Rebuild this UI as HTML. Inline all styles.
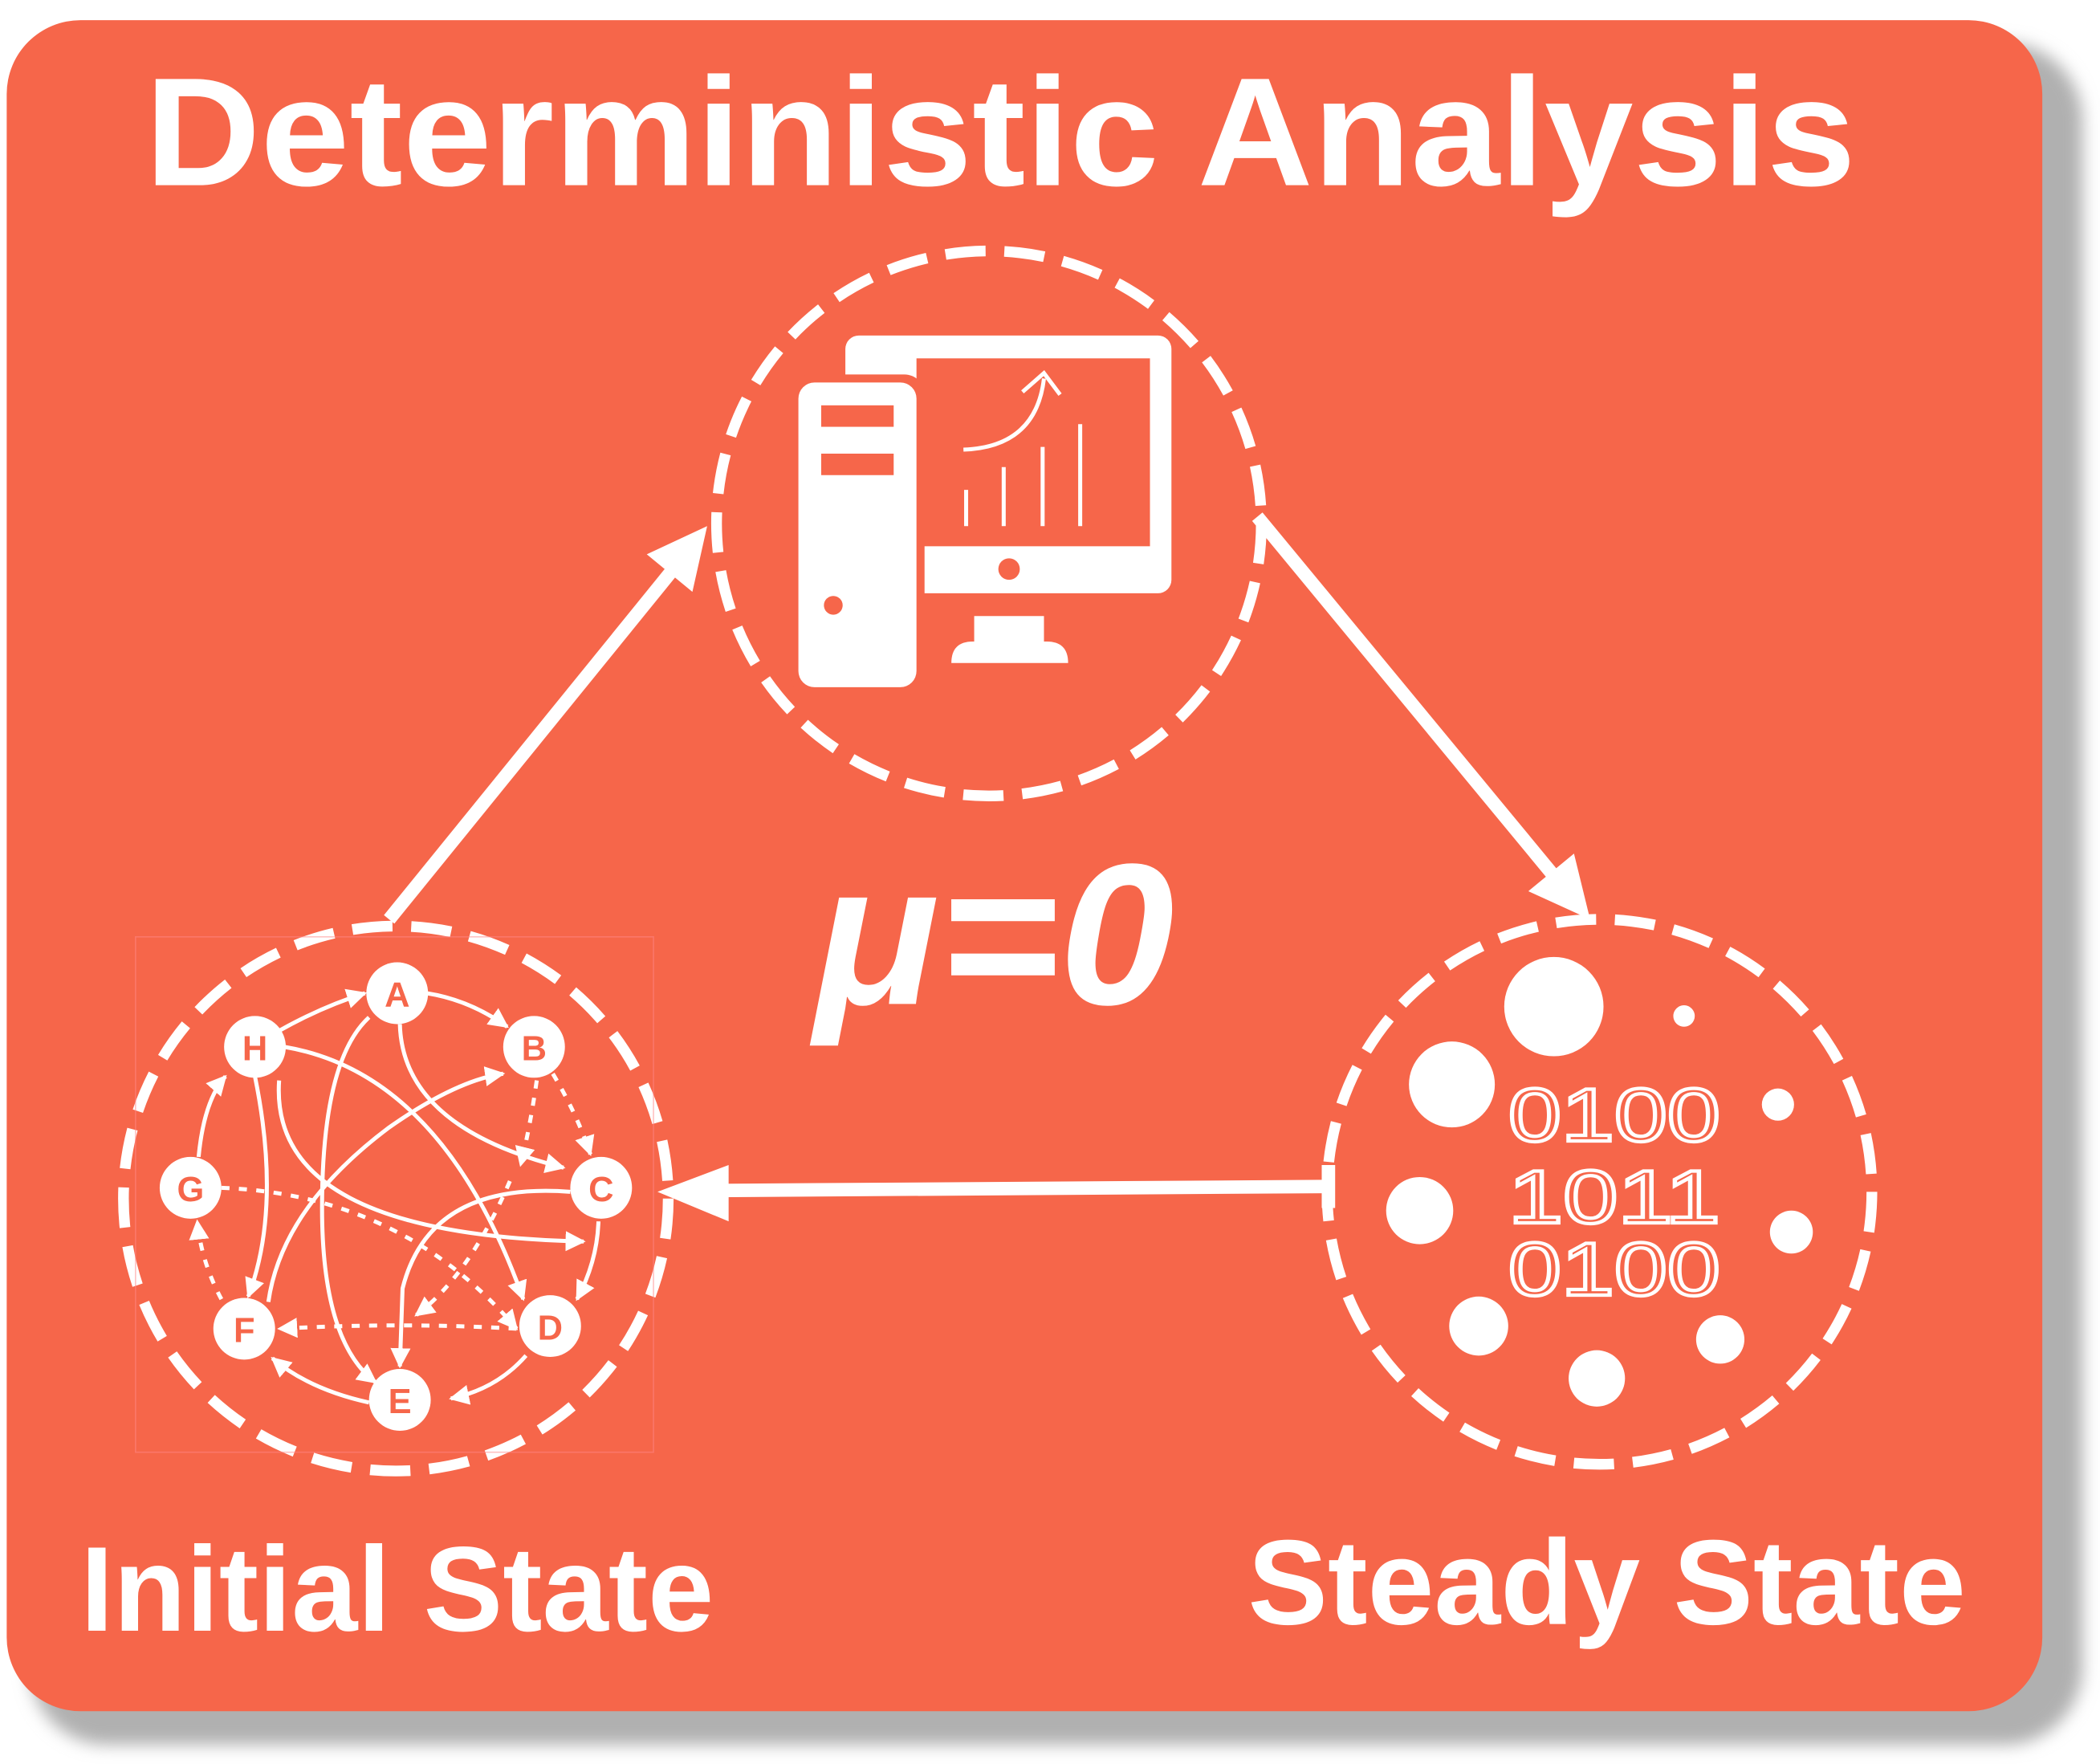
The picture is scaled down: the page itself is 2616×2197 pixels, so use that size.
<!DOCTYPE html>
<html><head><meta charset="utf-8"><style>
html,body{margin:0;padding:0;background:#fff}
svg{display:block}
</style></head><body>
<svg width="2616" height="2197" viewBox="0 0 1565 1314.3" preserveAspectRatio="none" xmlns="http://www.w3.org/2000/svg">
<defs>
<filter id="bl" x="-5%" y="-5%" width="110%" height="110%"><feGaussianBlur stdDeviation="6"/></filter>
<marker id="m" viewBox="0 0 10 10" refX="9" refY="5" markerWidth="5" markerHeight="5" orient="auto"><path d="M0,0 L10,5 L0,10 z" fill="#fff"/></marker>
</defs>
<rect x="22" y="32" width="1530" height="1268" rx="58" fill="#b0b0b0" filter="url(#bl)"/>
<rect x="5" y="15" width="1517" height="1260" rx="55" fill="#F6664A"/>
<g font-family="Liberation Sans, sans-serif" font-weight="bold" fill="#fff">
<text x="108" y="138" font-size="115" textLength="1275" lengthAdjust="spacingAndGlyphs">Deterministic Analysis</text>
<text x="607" y="748" font-size="150" font-style="italic" textLength="268" lengthAdjust="spacingAndGlyphs">μ=0</text>
<text x="60" y="1215" font-size="90" textLength="472" lengthAdjust="spacingAndGlyphs">Initial State</text>
<text x="930" y="1210" font-size="90" textLength="535" lengthAdjust="spacingAndGlyphs">Steady State</text>
</g>
<g fill="none" stroke="#fff" stroke-width="8" stroke-dasharray="30 14">
<circle cx="737" cy="390" r="203"/>
<circle cx="295" cy="893" r="203"/>
<circle cx="1192" cy="888" r="203"/>
</g>
<g stroke="#fff" stroke-width="10" fill="#fff">
<line x1="290" y1="685" x2="505" y2="420"/>
<polygon points="527,392 516,441 482,413" stroke="none"/>
<line x1="937" y1="385" x2="1160" y2="655"/>
<polygon points="1185,685 1173,636 1139,664" stroke="none"/>
<line x1="990" y1="884" x2="535" y2="887"/>
<polygon points="490,888 543,868 543,910" stroke="none"/>
<line x1="990" y1="868" x2="990" y2="900"/>
</g>
<g>
<rect x="630" y="250" width="243" height="192" rx="10" fill="#fff"/>
<rect x="683" y="267" width="174" height="140" fill="#F6664A"/>
<circle cx="752" cy="424" r="8" fill="#F6664A"/>
<rect x="726" y="459" width="52" height="24" fill="#fff"/>
<path d="M709,494 Q709,478 725,478 L780,478 Q796,478 796,494 Z" fill="#fff"/>
<rect x="589" y="279" width="100" height="239" rx="15" fill="#F6664A"/>
<rect x="595" y="285" width="88" height="227" rx="12" fill="#fff"/>
<rect x="612" y="302" width="54" height="16" fill="#F6664A"/>
<rect x="612" y="338" width="54" height="16" fill="#F6664A"/>
<circle cx="621" cy="451" r="7" fill="#F6664A"/>
<g stroke="#fff" stroke-width="3" fill="none">
<line x1="720" y1="365" x2="720" y2="392"/>
<line x1="748" y1="348" x2="748" y2="392"/>
<line x1="777" y1="333" x2="777" y2="392"/>
<line x1="805" y1="316" x2="805" y2="392"/>
<path d="M718,335 Q772,333 778,282"/>
<path d="M762,292 L778,278 L790,294"/>
</g>
</g>
<rect x="101" y="698" width="386" height="384" fill="none" stroke="#f88" stroke-width="1" opacity="0.5"/>
<g fill="none" stroke="#fff" stroke-width="3" marker-end="url(#m)">
<path d="M208,768 Q240,750 272,740"/>
<path d="M318,740 Q350,745 378,765"/>
<path d="M298,763 Q300,840 420,870"/>
<path d="M212,780 Q330,800 390,968"/>
<path d="M190,802 Q210,900 185,966"/>
<path d="M200,970 Q210,900 290,840 Q340,805 375,800"/>
<path d="M275,758 Q240,790 240,900 Q240,1000 280,1030"/>
<path d="M208,805 Q200,920 435,925"/>
<path d="M425,888 Q320,880 300,960 L298,1018"/>
<path d="M446,910 Q445,940 430,968"/>
<path d="M392,1010 Q370,1035 336,1042"/>
<path d="M275,1045 Q230,1035 203,1012"/>
<path d="M148,862 Q152,820 168,802"/>
</g>
<g fill="none" stroke="#fff" stroke-width="3" stroke-dasharray="6 7" marker-end="url(#m)">
<path d="M412,800 Q430,830 440,860"/>
<path d="M400,805 Q395,840 388,868"/>
<path d="M165,885 Q300,890 385,990"/>
<path d="M385,990 Q300,985 208,990"/>
<path d="M165,968 Q150,940 147,910"/>
<path d="M380,880 Q350,950 310,980"/>
</g>
<g fill="#fff">
<circle cx="296" cy="740" r="23"/><circle cx="398" cy="780" r="23"/>
<circle cx="448" cy="885" r="23"/><circle cx="410" cy="988" r="23"/>
<circle cx="298" cy="1043" r="23"/><circle cx="182" cy="990" r="23"/>
<circle cx="142" cy="885" r="23"/><circle cx="190" cy="780" r="23"/>
</g>
<g font-family="Liberation Sans, sans-serif" font-weight="bold" font-size="26" fill="#F6664A" text-anchor="middle">
<text x="296" y="750">A</text><text x="398" y="790">B</text><text x="448" y="895">C</text><text x="410" y="998">D</text>
<text x="298" y="1053">E</text><text x="182" y="1000">F</text><text x="142" y="895">G</text><text x="190" y="790">H</text>
</g>
<g fill="#fff">
<circle cx="1158" cy="750" r="37"/><circle cx="1082" cy="808" r="32"/><circle cx="1255" cy="757" r="8"/>
<circle cx="1325" cy="823" r="12"/><circle cx="1058" cy="902" r="25"/><circle cx="1335" cy="918" r="16"/>
<circle cx="1102" cy="988" r="22"/><circle cx="1282" cy="998" r="18"/><circle cx="1190" cy="1027" r="21"/>
</g>
<g font-family="Liberation Sans, sans-serif" font-size="56" fill="none" stroke="#fff" stroke-width="2.5">
<text x="1124" y="850" textLength="158" lengthAdjust="spacingAndGlyphs">0100</text>
<text x="1124" y="911" textLength="158" lengthAdjust="spacingAndGlyphs">1011</text>
<text x="1124" y="965" textLength="158" lengthAdjust="spacingAndGlyphs">0100</text>
</g>
</svg>
</body></html>
